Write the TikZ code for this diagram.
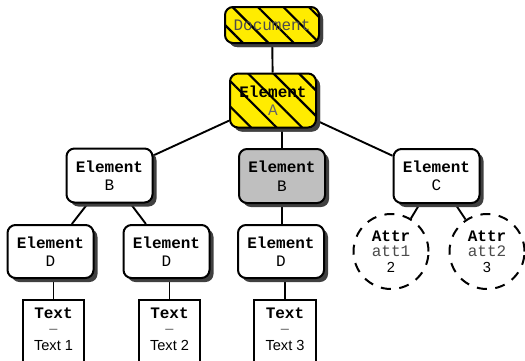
\documentclass[tikz,border=0pt]{standalone}
\usepackage{fontspec}
\setmonofont{Liberation Mono}
\setsansfont{Liberation Sans}
\usetikzlibrary{shadows,patterns.meta,backgrounds}
\definecolor{hatchyellow}{RGB}{255,236,0}
\definecolor{shadowgray}{RGB}{64,64,64}
\newcommand{\sfsize}{\sffamily\fontsize{14.6}{16}\selectfont}
\tikzset{
  shad/.style={drop shadow={shadow xshift=4pt,shadow yshift=-4pt,fill=shadowgray,opacity=1}},
  elem/.style={shad,draw,line width=2pt,rounded corners=8pt,fill=white,
    minimum width=86pt,minimum height=54pt,align=center,inner sep=0pt,
    font=\ttfamily\fontsize{16}{18.5}\selectfont},
  hatch/.style={shad,preaction={fill=hatchyellow},
    pattern={Lines[angle=-45,distance=18pt,line width=2.2pt]},pattern color=black},
  textbox/.style={draw,line width=2pt,fill=white,minimum width=61pt,minimum height=62pt,
    inner sep=0pt,font=\ttfamily\fontsize{16}{16}\selectfont},
  attr/.style={circle,draw,line width=2pt,dash pattern=on 10pt off 8.5pt,fill=white,
    minimum size=75pt,inner sep=0pt,align=center,font=\ttfamily\fontsize{16}{15.5}\selectfont},
  conn/.style={line width=1.9pt}
}
\begin{document}
\begin{tikzpicture}[x=1pt,y=-1pt]
\useasboundingbox (0,0) rectangle (525,360);
\node[elem,hatch,minimum width=94pt,minimum height=36pt] (doc) at (272,25) {{\color{black!70}Document}};
\node[elem,hatch] (a) at (273,100.5) {\textbf{Element}\\{\color{black!60}A}};
\node[elem] (b1) at (109.5,175.5) {\textbf{Element}\\B};
\node[elem,fill=black!25] (b2) at (282,176) {\textbf{Element}\\B};
\node[elem] (c) at (436.5,176) {\textbf{Element}\\C};
\node[elem,minimum height=53pt] (d1) at (50.5,251.5) {\textbf{Element}\\D};
\node[elem,minimum height=53pt] (d2) at (166.5,251.5) {\textbf{Element}\\D};
\node[elem,minimum height=53pt] (d3) at (281,251.5) {\textbf{Element}\\D};
\node[textbox] (t1) at (53.5,331) {\raisebox{2.5pt}{\begin{tabular}{@{}c@{}}\textbf{Text}\\[-1pt]{\sfsize\color{black!60}–}\\[1pt]{\sfsize Text 1}\end{tabular}}};
\node[textbox] (t2) at (169.5,331) {\raisebox{2.5pt}{\begin{tabular}{@{}c@{}}\textbf{Text}\\[-1pt]{\sfsize\color{black!60}–}\\[1pt]{\sfsize Text 2}\end{tabular}}};
\node[textbox,minimum width=62pt] (t3) at (285,331) {\raisebox{2.5pt}{\begin{tabular}{@{}c@{}}\textbf{Text}\\[-1pt]{\sfsize\color{black!60}–}\\[1pt]{\sfsize Text 3}\end{tabular}}};
\node[attr] (at1) at (391,251.5) {\textbf{Attr}\\{\color{black!70}att1}\\{\sfsize 2}};
\node[attr] (at2) at (487,251.5) {\textbf{Attr}\\{\color{black!70}att2}\\{\sfsize 3}};
\begin{scope}[on background layer]
\draw[conn] (doc) -- (a);
\draw[conn] (a) -- (b1);
\draw[conn] (a) -- (c);
\draw[conn] (b2 |- a) -- (b2);
\draw[conn] (b1) -- (d1);
\draw[conn] (b1) -- (d2);
\draw[conn] (b2) -- (b2 |- d3);
\draw[conn] (t1) -- (t1 |- d1);
\draw[conn] (t2) -- (t2 |- d2);
\draw[conn] (t3) -- (t3 |- d3);
\draw[conn] (c) -- (at1);
\draw[conn] (c) -- (at2);
\end{scope}
\end{tikzpicture}
\end{document}
